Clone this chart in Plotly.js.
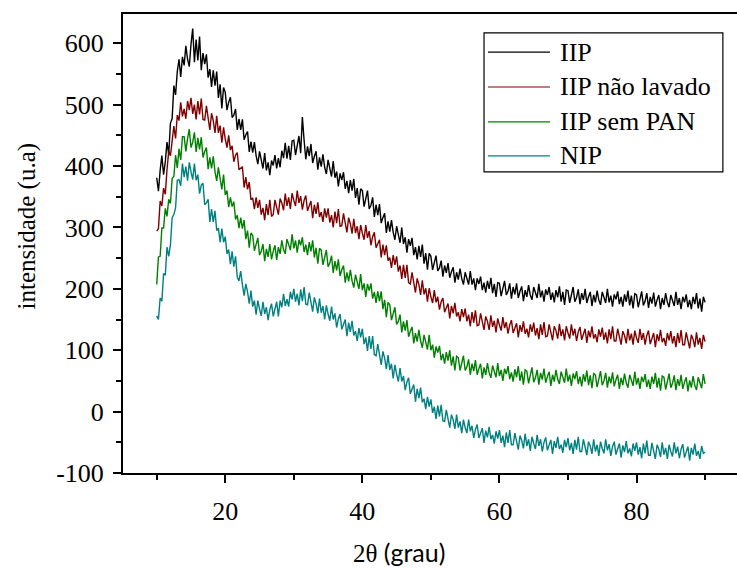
<!DOCTYPE html>
<html>
<head>
<meta charset="utf-8">
<script src="https://cdn.plot.ly/plotly-3.0.1.min.js"></script>
<style>html,body{margin:0;padding:0;background:#fff;}</style>
</head>
<body>
<div id="chart" style="width:737px;height:568px;"></div>
<script>
// 2θ sampling grid (degrees): 10 to 90 in 0.25 steps
const twoThetaStart = 10;
const twoThetaStep = 0.25;
const twoThetaCount = 321;
const twoTheta = Array.from({length: twoThetaCount}, (_, i) => twoThetaStart + i * twoThetaStep);

const seriesNames = ["IIP", "IIP não lavado", "IIP sem PAN", "NIP"];

const iip = [
381,359,393,417, 386,407,439,419, 470,477,531,516, 554,574,545,578,
564,596,574,562, 598,624,569,606, 572,611,556,584, 566,582,544,558,
529,556,531,554, 511,533,494,528,
520,491,504,512, 479,483,493,459, 477,459,476,443, 451,456,423,440,
422,439,417,403, 424,411,396,421, 393,406,385,409, 401,418,396,413,
398,425,413,438, 412,433,410,441, 442,418,436,449, 421,480,442,411,
432,416,436,405, 416,424,394,414, 399,419,398,387, 410,397,383,408,
381,391,367,388, 377,390,363,376, 356,377,360,379, 348,364,337,363,
360,334,350,360, 330,336,349,317, 337,320,338,307, 316,323,291,310,
293,312,292,280, 302,289,275,300, 273,284,259,281, 270,283,255,268,
248,270,252,272, 241,258,231,258,
253,231,245,254, 229,234,246,220, 238,226,242,218, 228,235,210,227,
215,233,217,207, 227,218,207,229, 207,217,198,217, 208,220,198,210,
194,213,200,218, 193,208,187,210,
209,188,203,213, 190,196,209,184, 203,191,209,185, 196,204,180,198,
187,206,190,182, 203,195,185,208, 186,197,179,199, 190,203,182,194,
178,198,186,204, 179,195,174,198,
197,177,192,203, 179,186,199,175, 193,182,200,177, 187,195,172,190,
178,197,182,174, 195,187,177,200, 178,189,171,191, 183,196,175,187,
171,191,179,197, 173,189,168,192,
190,170,185,196, 173,180,193,169, 187,176,194,171, 182,190,167,185,
174,193,178,170, 190,182,172,195, 174,185,167,187, 178,191,170,182,
167,187,175,193, 168,184,163,187,
178];

const iipNaoLavado = [
294,298,343,335, 364,354,394,424, 417,439,465,445, 483,474,504,481,
493,477,506,491, 511,485,500,476, 506,484,510,476, 475,498,476,459,
486,474,454,482, 454,466,438,463,
444,430,450,426, 433,407,418,422, 394,396,399,365, 382,362,374,345,
348,330,349,332, 345,321,332,312, 338,320,345,318, 321,345,331,321,
347,340,328,355, 335,349,330,356, 344,335,360,340, 351,329,344,352,
327,334,343,315, 337,322,341,317, 325,309,331,316, 331,308,320,300,
326,307,330,302, 303,323,306,292, 316,306,290,314, 291,302,281,304,
291,280,304,283, 294,271,285,292, 267,273,280,251, 272,255,271,246,
251,234,255,239, 253,228,238,216, 239,218,239,210, 208,227,209,194,
217,207,190,214, 191,201,179,201,
187,177,198,178, 187,166,179,185, 162,168,176,152, 172,160,177,155,
162,147,167,154, 168,147,158,139, 162,145,165,140, 141,160,144,133,
155,147,133,157, 138,148,129,152,
141,132,154,136, 146,127,141,149, 128,135,144,121, 141,130,147,127,
135,121,142,130, 145,124,136,118, 142,125,146,122, 123,142,127,116,
139,132,119,143, 123,134,116,139,
128,119,142,124, 135,115,130,138, 117,125,135,112, 132,121,139,119,
126,113,134,122, 137,117,129,111, 134,118,139,115, 115,135,120,109,
131,124,111,135, 116,127,109,132,
120,112,135,117, 128,109,124,132, 110,118,128,105, 126,115,133,113,
120,107,128,116, 131,111,123,105, 128,112,133,109, 109,129,114,103,
125,118,105,129, 109,120,102,125,
114];

const iipSemPan = [
207,252,253,299, 299,331,318,346, 339,380,383,418, 397,428,410,448,
448,424,445,460, 430,439,455,423, 446,427,447,414, 424,430,395,414,
396,416,391,376, 398,382,362,386,
353,360,333,349, 334,342,313,320, 299,316,298,312, 281,295,267,291,
287,262,274,283, 255,261,273,245, 265,252,273,248, 261,271,247,268,
257,279,264,257, 281,273,263,289, 266,279,259,280, 271,284,260,272,
255,276,261,279, 251,267,241,266, 263,239,253,263, 236,242,254,226,
245,230,248,221, 231,238,210,227, 212,231,213,202, 223,212,200,224,
198,209,187,208, 197,209,184,195, 177,196,180,196, 167,182,154,178,
174,149,161,170, 142,147,158,129, 147,132,149,122, 131,138,111,128,
114,133,115,104, 125,114,101,125,
100,109,88,106, 96,107,84,94, 78,97,83,100, 75,90,67,90,
88,67,81,91, 67,73,85,60, 78,66,84,60, 70,78,54,72,
60,79,63,55, 75,67,56,79,
58,68,50,70, 61,74,53,64, 49,69,56,74, 50,65,44,68,
66,46,61,72, 48,55,68,44, 63,52,70,47, 57,65,42,60,
49,68,53,45, 65,57,47,70,
49,60,42,62, 53,66,45,57, 41,61,49,67, 43,59,38,62,
60,40,55,66, 43,50,63,39, 57,46,64,41, 52,60,37,55,
43,62,47,39, 60,52,42,65,
44,55,37,57, 48,61,40,52, 37,57,45,63, 39,55,34,58,
56,36,51,62, 39,46,59,35, 53,42,60,37, 48,56,33,51,
39,58,43,35, 56,48,38,61,
45];

const nip = [
156,150,185,180, 225,222,268,253, 272,316,321,332, 377,378,368,404,
382,399,376,406, 391,378,404,377, 386,355,369,372, 337,340,346,309,
330,309,327,295, 299,276,298,276,
285,257,264,240, 261,236,253,219, 213,229,207,189, 208,195,176,197,
171,181,158,181, 167,156,179,159, 170,149,166,176, 155,166,179,155,
181,170,192,172, 183,171,195,183, 200,179,192,173, 199,180,203,175,
174,194,177,163, 186,176,160,184, 161,172,150,173, 159,148,171,150,
160,137,151,159, 134,141,150,123, 145,130,148,124, 131,115,136,121,
135,110,121,99, 123,102,123,93, 91,110,91,76, 98,87,69,92,
68,78,54,76, 61,49,71,49, 58,35,48,55, 29,36,44,16,
37,22,39,15, 21,4,24,8,
20,-2,8,-12, 10,-8,11,-15, -16,3,-14,-26, -5,-13,-28,-5,
-26,-16,-35,-13, -26,-35,-13,-32, -23,-43,-29,-21, -43,-36,-27,-51,
-31,-42,-25,-45, -38,-52,-32,-44,
-30,-51,-39,-58, -34,-51,-30,-54, -54,-35,-50,-62, -39,-47,-60,-36,
-56,-45,-64,-41, -52,-61,-38,-56, -45,-65,-50,-42, -63,-56,-46,-69,
-48,-59,-41,-61, -54,-67,-46,-58,
-43,-63,-51,-69, -46,-62,-41,-65, -65,-45,-60,-71, -49,-56,-69,-45,
-65,-54,-72,-49, -60,-68,-45,-63, -53,-72,-57,-49, -70,-62,-52,-75,
-55,-66,-48,-68, -60,-73,-52,-64,
-50,-70,-58,-76, -52,-68,-47,-71, -71,-51,-66,-77, -54,-61,-74,-50,
-70,-59,-77,-54, -65,-73,-50,-68, -57,-76,-61,-53, -75,-67,-57,-80,
-59,-70,-52,-72, -64,-77,-56,-68,
-66];

const seriesValues = [iip, iipNaoLavado, iipSemPan, nip];
const seriesColors = ["#000000", "#800000", "#008000", "#008080"];

const traces = seriesValues.map((vals, k) => ({
  type: "scatter",
  mode: "lines",
  name: seriesNames[k],
  x: twoTheta,
  y: vals,
  line: {color: seriesColors[k], width: 1.4},
  showlegend: false
}));

const serif = "Liberation Serif";

// Hand-built legend box (paper coordinates)
const legendBox = {x0: 0.588, x1: 0.977, y0: 0.656, y1: 0.959};
const legendRows = [0.917, 0.841, 0.765, 0.691];
const legendLineX = [0.5945, 0.6954];
const legendTextX = 0.7085;

const shapes = [{
  type: "rect", xref: "paper", yref: "paper",
  x0: legendBox.x0, x1: legendBox.x1, y0: legendBox.y0, y1: legendBox.y1,
  line: {color: "#000", width: 1.2}, fillcolor: "#ffffff", layer: "above"
}];
const annotations = [];
seriesNames.forEach((name, k) => {
  shapes.push({
    type: "line", xref: "paper", yref: "paper",
    x0: legendLineX[0], x1: legendLineX[1], y0: legendRows[k], y1: legendRows[k],
    line: {color: seriesColors[k], width: 1.2}, layer: "above"
  });
  annotations.push({
    text: name, xref: "paper", yref: "paper",
    x: legendTextX, y: legendRows[k], xanchor: "left", yanchor: "middle",
    showarrow: false, font: {family: serif, size: 26, color: "#000"}
  });
});

annotations.push({
  text: '2θ <span style="font-family:Lato">(grau)</span>',
  xref: "paper", yref: "paper",
  x: 0.4495, y: -0.172,
  xanchor: "center", yanchor: "middle",
  showarrow: false,
  font: {family: serif, size: 25, color: "#000"}
});
annotations.push({
  text: "intensidade (u.a)",
  xref: "paper", yref: "paper",
  x: -0.156, y: 0.5375,
  xanchor: "center", yanchor: "middle",
  textangle: -90,
  showarrow: false,
  font: {family: serif, size: 25, color: "#000"}
});

const layout = {
  width: 737,
  height: 568,
  margin: {l: 123, r: 0, t: 14, b: 95, pad: 0},
  paper_bgcolor: "#ffffff",
  plot_bgcolor: "#ffffff",
  showlegend: false,
  font: {family: serif, size: 25, color: "#000"},
  xaxis: {
    range: [5.08, 94.66],
    tickvals: [20, 40, 60, 80],
    ticks: "outside",
    ticklen: 8,
    tickwidth: 2,
    tickcolor: "#000",
    minor: {tickvals: [10, 30, 50, 70, 90], ticks: "outside", ticklen: 5, tickwidth: 2, tickcolor: "#000"},
    showline: true,
    linewidth: 2,
    linecolor: "#000",
    mirror: true,
    showgrid: false,
    zeroline: false,
    tickfont: {family: serif, size: 26, color: "#000"},
    ticklabelstandoff: 6
  },
  yaxis: {
    range: [-100, 647.7],
    tickvals: [-100, 0, 100, 200, 300, 400, 500, 600],
    ticktext: ["-100", "0", "100", "200", "300", "400", "500", "600"],
    ticks: "outside",
    ticklen: 8,
    tickwidth: 2,
    tickcolor: "#000",
    minor: {tickvals: [-50, 50, 150, 250, 350, 450, 550], ticks: "outside", ticklen: 5, tickwidth: 2, tickcolor: "#000"},
    showline: true,
    linewidth: 2,
    linecolor: "#000",
    mirror: false,
    showgrid: false,
    zeroline: false,
    tickfont: {family: serif, size: 26, color: "#000"},
    ticklabelstandoff: 4
  },
  shapes: shapes,
  annotations: annotations
};

Plotly.newPlot("chart", traces, layout, {displayModeBar: false, staticPlot: true});
</script>
</body>
</html>
